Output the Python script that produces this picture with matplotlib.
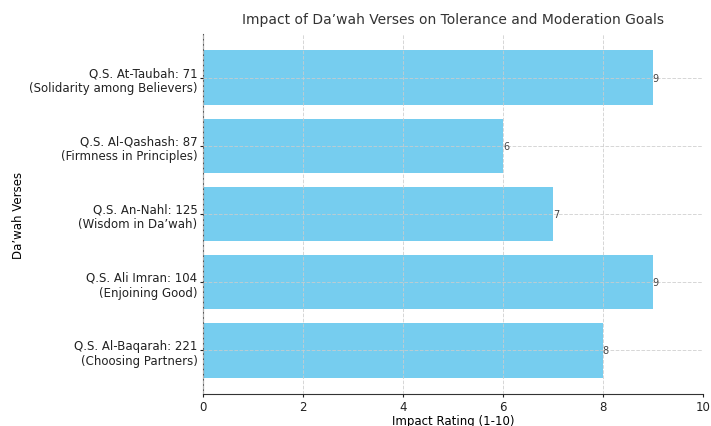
import matplotlib.pyplot as plt

verses = [
    "Q.S. Al-Baqarah: 221\n(Choosing Partners)",
    "Q.S. Ali Imran: 104\n(Enjoining Good)",
    "Q.S. An-Nahl: 125\n(Wisdom in Da\u2019wah)",
    "Q.S. Al-Qashash: 87\n(Firmness in Principles)",
    "Q.S. At-Taubah: 71\n(Solidarity among Believers)",
]
ratings = [8, 9, 7, 6, 9]

fig = plt.figure(figsize=(7.11, 4.27), dpi=100)
ax = fig.add_axes([0.2855, 0.075, 0.703, 0.843])

bars = ax.barh(verses, ratings, color='#76CDEF', height=0.8)
for bar, r in zip(bars, ratings):
    ax.text(bar.get_width(), bar.get_y() + bar.get_height() / 2, str(r),
            va='center', ha='left', fontsize=7, color='#444444')

ax.set_xlim(0, 10)
ax.set_xticks([0, 2, 4, 6, 8, 10])
ax.grid(True, linestyle='--', color='#cccccc', linewidth=0.7, alpha=0.8)
ax.set_axisbelow(False)
for s in ['top', 'right']:
    ax.spines[s].set_visible(False)
ax.spines['left'].set_color('#555555')
ax.spines['bottom'].set_color('#333333')
ax.tick_params(labelsize=8.5, colors='#222222', length=2.5, pad=1.5)

ax.set_xlabel('Impact Rating (1-10)', fontsize=8.5, labelpad=1)
ax.set_ylabel('Da\u2019wah Verses', fontsize=8.5, labelpad=3)
ax.set_title('Impact of Da\u2019wah Verses on Tolerance and Moderation Goals',
             fontsize=10, color='#333333', pad=8)

fig.savefig('out.png', dpi=100)
